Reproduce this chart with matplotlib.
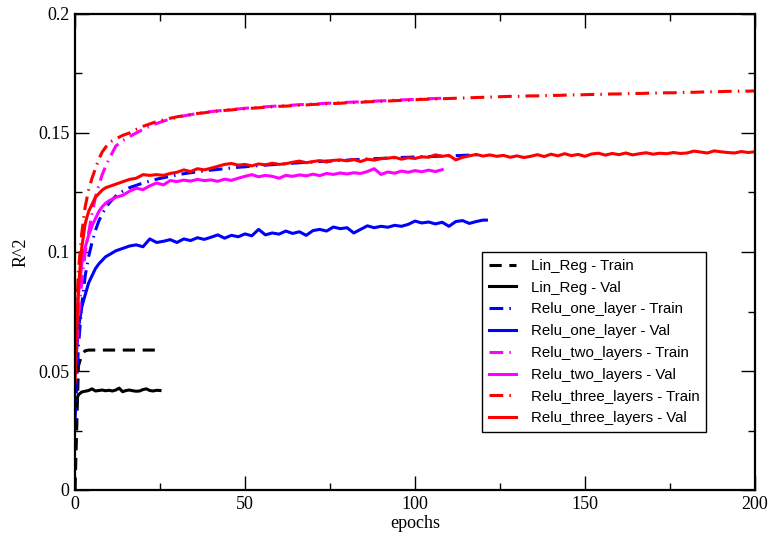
import matplotlib
matplotlib.use("Agg")
import matplotlib.pyplot as plt
from matplotlib.ticker import MultipleLocator, FormatStrFormatter

# epochs at which each run was logged
epochs_lin = list(range(0, 26))
epochs_one = list(range(0, 11)) + list(range(12, 121, 2))
epochs_one_val = list(range(0, 11)) + list(range(12, 121, 2)) + [121]
epochs_two = list(range(0, 11)) + list(range(12, 109, 2))
epochs_three = list(range(0, 11)) + list(range(12, 201, 2))

lin_train = [0.0, 0.052, 0.057, 0.0585, 0.0588, 0.0588, 0.0588, 0.0588, 0.0588,
             0.0588, 0.0588, 0.0588, 0.0588, 0.0588, 0.0588, 0.0588, 0.0588,
             0.0588, 0.0588, 0.0588, 0.0588, 0.0588, 0.0588, 0.0588, 0.0588, 0.0588]
lin_val = [0.036, 0.040, 0.0412, 0.0415, 0.0418, 0.0425, 0.0416, 0.0418, 0.0420,
           0.0417, 0.0419, 0.0416, 0.0420, 0.0428, 0.0413, 0.0418, 0.0420, 0.0417,
           0.0415, 0.0416, 0.0422, 0.0425, 0.0418, 0.0416, 0.0419, 0.0418]

one_train = [0.029, 0.060, 0.078, 0.090, 0.098, 0.104, 0.109, 0.113, 0.116, 0.1185,
             0.1205, 0.1235, 0.1255, 0.127, 0.128, 0.129, 0.1298, 0.1306, 0.1312,
             0.1318, 0.1324, 0.1329, 0.1333, 0.1337, 0.1341, 0.1344, 0.1347, 0.135,
             0.1353, 0.1356, 0.1358, 0.1361, 0.1363, 0.1365, 0.1367, 0.1369, 0.1371,
             0.1373, 0.1375, 0.1377, 0.1378, 0.138, 0.1382, 0.1383, 0.1385, 0.1386,
             0.1388, 0.1389, 0.1391, 0.1392, 0.1393, 0.1395, 0.1396, 0.1397, 0.1398,
             0.1399, 0.14, 0.1401, 0.1402, 0.1403, 0.1404, 0.1405, 0.1406, 0.1407,
             0.1408, 0.1409]
one_val = [0.050, 0.068, 0.077, 0.082, 0.087, 0.090, 0.093, 0.095, 0.0965, 0.098,
           0.0988, 0.1005, 0.1015, 0.1025, 0.1030, 0.1022, 0.1055, 0.1040, 0.1045,
           0.1052, 0.1040, 0.1055, 0.1048, 0.1060, 0.1053, 0.1062, 0.1072, 0.1058,
           0.1070, 0.1064, 0.1076, 0.1068, 0.1095, 0.1072, 0.1080, 0.1075, 0.1088,
           0.1078, 0.1085, 0.1070, 0.1090, 0.1095, 0.1088, 0.1105, 0.1098, 0.1102,
           0.1080, 0.1095, 0.1110, 0.1102, 0.1108, 0.1104, 0.1112, 0.1108, 0.1116,
           0.1130, 0.1122, 0.1126, 0.1118, 0.1125, 0.1108, 0.1128, 0.1132, 0.1120,
           0.1128, 0.1134, 0.1134]

two_train = [0.050, 0.072, 0.088, 0.100, 0.108, 0.116, 0.123, 0.128, 0.1325, 0.136,
             0.139, 0.1445, 0.1468, 0.1485, 0.150, 0.1515, 0.1528, 0.154, 0.155,
             0.1558, 0.1565, 0.1572, 0.1577, 0.1582, 0.1586, 0.159, 0.1593, 0.1596,
             0.1599, 0.1601, 0.1604, 0.1606, 0.1608, 0.161, 0.1612, 0.1614, 0.1615,
             0.1617, 0.1619, 0.162, 0.1622, 0.1623, 0.1625, 0.1626, 0.1627, 0.1629,
             0.163, 0.1631, 0.1633, 0.1634, 0.1635, 0.1636, 0.1638, 0.1639, 0.164,
             0.1641, 0.1643, 0.1644, 0.1645, 0.1646]
two_val = [0.060, 0.082, 0.095, 0.102, 0.107, 0.111, 0.114, 0.117, 0.119, 0.1205,
           0.1215, 0.123, 0.1238, 0.1255, 0.1268, 0.1262, 0.1278, 0.1290, 0.1282,
           0.1300, 0.1296, 0.1302, 0.1298, 0.1305, 0.1300, 0.1303, 0.1297, 0.1306,
           0.1301, 0.1310, 0.1318, 0.1325, 0.1316, 0.1322, 0.1318, 0.1310, 0.1322,
           0.1318, 0.1324, 0.1320, 0.1327, 0.1321, 0.1330, 0.1326, 0.1332, 0.1328,
           0.1333, 0.1330, 0.1338, 0.1350, 0.1326, 0.1336, 0.1331, 0.1340, 0.1335,
           0.1342, 0.1337, 0.1344, 0.1338, 0.1346]

three_train = [0.060, 0.092, 0.108, 0.119, 0.126, 0.131, 0.135, 0.139, 0.142, 0.144,
               0.146, 0.1475, 0.149, 0.150, 0.1515, 0.1528, 0.1538, 0.1548, 0.1555,
               0.1562, 0.1568, 0.1573, 0.1577, 0.1582, 0.1585, 0.1589, 0.1592, 0.1595,
               0.1597, 0.160, 0.1602, 0.1604, 0.1606, 0.1608, 0.1610, 0.1612, 0.1613,
               0.1615, 0.1617, 0.1618, 0.1620, 0.1621, 0.1623, 0.1624, 0.1625, 0.1627,
               0.1628, 0.1629, 0.1631, 0.1632, 0.1633, 0.1634, 0.1636, 0.1637, 0.1638,
               0.1640, 0.1641, 0.1642, 0.1643, 0.1644, 0.1645, 0.1646, 0.1647, 0.1648,
               0.1649, 0.1650, 0.1651, 0.1652, 0.1653, 0.1654, 0.1654, 0.1655, 0.1656,
               0.1656, 0.1657, 0.1658, 0.1658, 0.1659, 0.1660, 0.1660, 0.1661, 0.1662,
               0.1662, 0.1663, 0.1664, 0.1664, 0.1665, 0.1666, 0.1666, 0.1667, 0.1668,
               0.1668, 0.1669, 0.1669, 0.1670, 0.1671, 0.1671, 0.1672, 0.1673, 0.1673,
               0.1674, 0.1675, 0.1675, 0.1676, 0.1676, 0.1677]
three_val = [0.045, 0.085, 0.102, 0.112, 0.117, 0.120, 0.123, 0.1245, 0.126, 0.127,
             0.1275, 0.1285, 0.1295, 0.1305, 0.131, 0.1325, 0.1322, 0.1325, 0.1322,
             0.133, 0.1335, 0.1345, 0.1338, 0.1350, 0.1345, 0.1352, 0.136, 0.1368,
             0.1372, 0.1365, 0.1368, 0.1362, 0.1370, 0.1366, 0.1373, 0.1368, 0.1371,
             0.1377, 0.1382, 0.1375, 0.1380, 0.1384, 0.1378, 0.1385, 0.1387, 0.1383,
             0.1389, 0.1380, 0.1390, 0.1386, 0.1392, 0.1394, 0.1398, 0.1390, 0.1396,
             0.1393, 0.1400, 0.1398, 0.1408, 0.1402, 0.1406, 0.1387, 0.1398, 0.1404,
             0.1410, 0.1403, 0.1408, 0.1402, 0.1406, 0.1398, 0.1404, 0.1397, 0.1402,
             0.1409, 0.1401, 0.1411, 0.1404, 0.1413, 0.1405, 0.1410, 0.1402, 0.1412,
             0.1415, 0.1407, 0.1414, 0.1409, 0.1416, 0.1408, 0.1413, 0.1417, 0.1411,
             0.1415, 0.1413, 0.1418, 0.1414, 0.1416, 0.1424, 0.1420, 0.1416, 0.1425,
             0.1421, 0.1418, 0.1416, 0.1422, 0.1418, 0.1421]

serif = ["Liberation Serif", "DejaVu Serif"]
sans = ["Liberation Sans", "DejaVu Sans"]

dashed = (0, (4, 2.5))
dash_dot = (0, (4.5, 2, 0.5, 2))
lw = 2.2

fig = plt.figure(figsize=(7.72, 5.36), dpi=100)
ax = fig.add_axes([75 / 772, 46 / 536, 680 / 772, 476 / 536])

runs = [
    (epochs_lin, lin_train, "black", dashed, "Lin_Reg - Train"),
    (epochs_lin, lin_val, "black", "-", "Lin_Reg - Val"),
    (epochs_one, one_train, "blue", dash_dot, "Relu_one_layer - Train"),
    (epochs_one_val, one_val, "blue", "-", "Relu_one_layer - Val"),
    (epochs_two, two_train, "magenta", dash_dot, "Relu_two_layers - Train"),
    (epochs_two, two_val, "magenta", "-", "Relu_two_layers - Val"),
    (epochs_three, three_train, "red", dash_dot, "Relu_three_layers - Train"),
    (epochs_three, three_val, "red", "-", "Relu_three_layers - Val"),
]
for x, y, color, ls, label in runs:
    ax.plot(x, y, color=color, linestyle=ls, linewidth=lw, label=label,
            solid_joinstyle="round", dash_joinstyle="round")

ax.set_xlim(0, 200)
ax.set_ylim(0, 0.2)
ax.xaxis.set_major_locator(MultipleLocator(50))
ax.xaxis.set_minor_locator(MultipleLocator(25))
ax.yaxis.set_major_locator(MultipleLocator(0.05))
ax.yaxis.set_minor_locator(MultipleLocator(0.025))
ax.yaxis.set_major_formatter(FormatStrFormatter("%g"))

ax.tick_params(which="both", direction="in", top=True, right=True, width=1,
               labelsize=13, pad=4)
ax.tick_params(which="major", length=10)
ax.tick_params(which="minor", length=5)
for lab in ax.get_xticklabels() + ax.get_yticklabels():
    lab.set_family(serif)
for sp in ax.spines.values():
    sp.set_linewidth(1.6)

ax.set_xlabel("epochs", family=serif, fontsize=13, labelpad=2)
ax.set_ylabel("R^2", family=serif, fontsize=13, labelpad=6)

leg = ax.legend(loc="upper left", bbox_to_anchor=(0.5985, 0.5), borderaxespad=0,
                prop={"family": sans, "size": 10.8}, handlelength=1.8,
                handletextpad=1.0, labelspacing=0.52, borderpad=0.45,
                fancybox=False, framealpha=1, edgecolor="black")
leg.get_frame().set_linewidth(1.0)

fig.savefig("out.png", dpi=100)
